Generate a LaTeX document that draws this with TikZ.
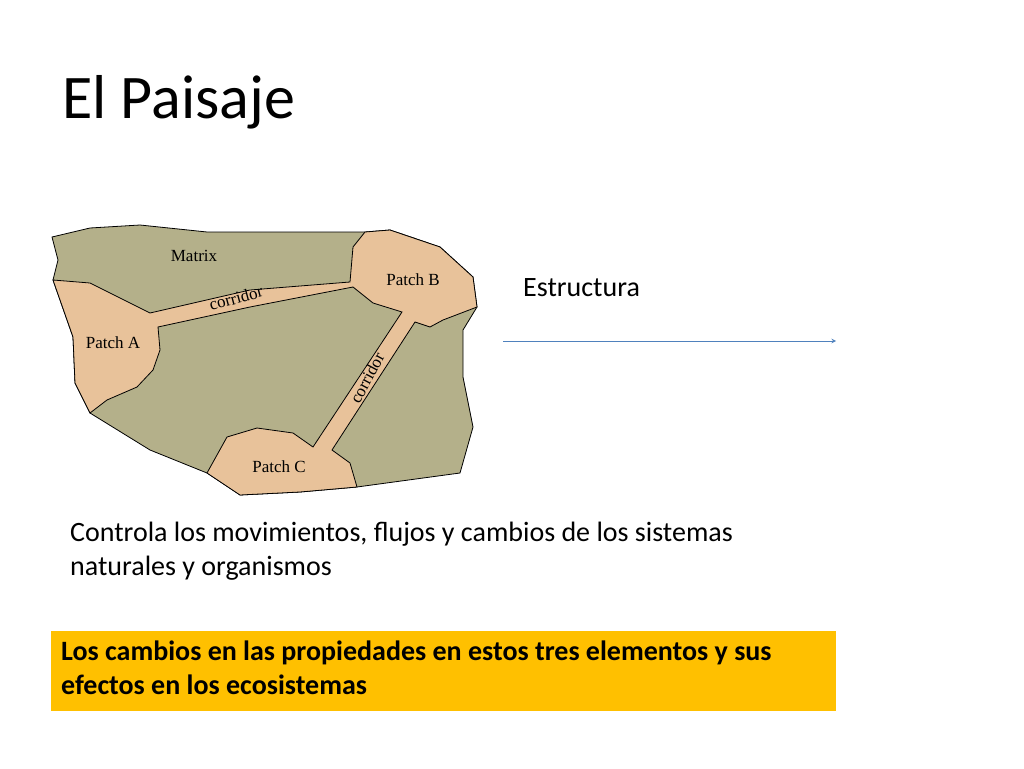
\documentclass[tikz,border=0pt]{standalone}
\usepackage{fontspec}
\setmainfont{Carlito}
\newfontfamily\mapfont{Liberation Serif}
\usetikzlibrary{positioning}
\definecolor{matrixgreen}{RGB}{180,176,138}
\definecolor{patchtan}{RGB}{232,194,154}
\definecolor{boxorange}{RGB}{255,192,0}
\definecolor{arrowblue}{RGB}{79,129,189}
\tikzset{maplabel/.style={font=\mapfont\fontsize{17}{17}\selectfont,inner sep=0pt},
         bodytext/.style={font=\fontsize{28}{34}\selectfont,align=left,inner sep=0pt,anchor=north west}}

\begin{document}
\begin{tikzpicture}[x=1pt,y=-1pt]
\useasboundingbox[fill=white] (0,0) rectangle (1024,768);

% map
\draw[fill=matrixgreen,line width=0.8pt] (52,237) -- (90,228) -- (140,225) -- (207,232) -- (365,232)
  -- (390,230) -- (440,247) -- (473,277) -- (477,307) -- (463,330) -- (463,377) -- (473,427)
  -- (460,473) -- (357,487) -- (300,492) -- (240,495) -- (207,473) -- (150,450) -- (90,413)
  -- (75,383) -- (73,337) -- (53,280) -- (58,260) -- cycle;
\draw[fill=patchtan,line width=0.8pt] (90,413) -- (75,383) -- (73,337) -- (53,280) -- (90,283)
  -- (150,313) -- (250,290) -- (350,282) -- (353,247) -- (365,232) -- (390,230) -- (440,247)
  -- (473,277) -- (477,307) -- (443,320) -- (430,327) -- (415,322) -- (332,450) -- (350,463)
  -- (357,487) -- (300,492) -- (240,495) -- (207,473) -- (227,437) -- (257,428) -- (293,433)
  -- (313,447) -- (402,312) -- (373,303) -- (353,287) -- (250,307) -- (158,327) -- (160,350)
  -- (153,370) -- (137,387) -- (107,400) -- cycle;
\node[maplabel] (matrix) at (194,256) {Matrix};
\node[maplabel] (patchA) at (113,343) {Patch A};
\node[maplabel] (patchB) at (413,280) {Patch B};
\node[maplabel] (patchC) at (279,467) {Patch C};
\node[maplabel,rotate=15] (corr1) at (236,298) {corridor};
\node[maplabel,rotate=62] (corr2) at (367,378) {corridor};

% texts
\node[font=\fontsize{62}{62}\selectfont,anchor=base west,inner sep=0pt] (title) at (62,118) {El Paisaje};
\node[font=\fontsize{28}{34}\selectfont,anchor=base west,inner sep=0pt] (estructura) at (523,296) {Estructura};
\coordinate (arrowstart) at (503,341);
\coordinate (arrowend) at (836,341);
\draw[arrowblue,line width=1pt,->,>=stealth] (arrowstart) -- (arrowend);
\node[bodytext] (controla) at (70,522) {Controla los movimientos, flujos y cambios de los sistemas\\naturales y organismos};
\node[fill=boxorange,minimum width=785,minimum height=80,anchor=north west,inner sep=0pt] (box) at (51,631) {};
\node[bodytext,font=\bfseries\fontsize{28}{34}\selectfont] (cambios) at (61,641) {Los cambios en las propiedades en estos tres elementos y sus\\efectos en los ecosistemas};
\end{tikzpicture}
\end{document}
